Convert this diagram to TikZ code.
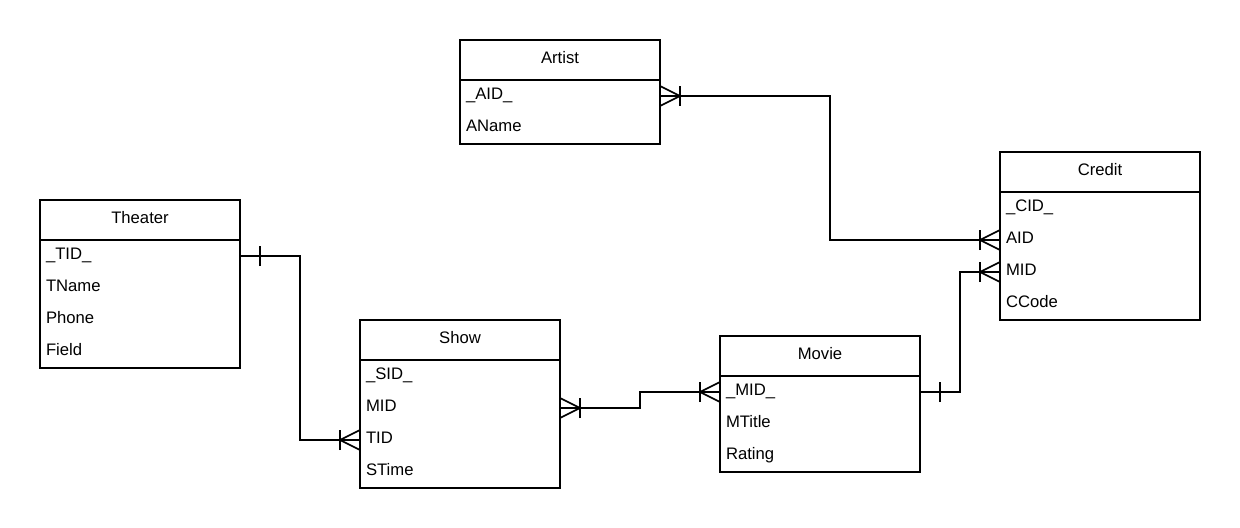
\documentclass[tikz,border=0pt]{standalone}
\usepackage{fontspec}
\setmainfont{Liberation Sans}
\usetikzlibrary{calc}
\tikzset{
  x=0.75pt, y=-0.75pt,
  ent/.style={draw=black, line width=1.3pt},
  hdr/.style={minimum width=150pt, minimum height=30pt, inner sep=0pt, outer sep=0pt, anchor=north west,
    font=\fontsize{12.5}{14}\selectfont, text height=0.72em, text depth=0.2em},
  rowbox/.style={minimum width=150pt, minimum height=24pt, inner xsep=4.5pt, inner ysep=0pt, outer sep=0pt, anchor=north west,
    text width=141pt, align=left, font=\fontsize{12.5}{14}\selectfont, text height=0.72em, text depth=0.2em},
  conn/.style={draw=black, line width=1.3pt},
}
\newcommand\erentity[6]{% name, x, y, title, rows, number of rows
  \node[hdr] (#1) at (#2,#3) {#4};
  \foreach \r [count=\i] in {#5} {
    \node[rowbox] (#1-\i) at (#2,{#3+40+32*(\i-1)}) {\r};
  }
  \draw[ent] (#1.north west) rectangle (#1-#6.south east);
  \draw[ent] (#1.south west) -- (#1.south east);
}
\newcommand\crowfoot[2]{% point, direction (1 right, -1 left)
  \draw[conn] ($(#1)+(0,10)$) -- ($(#1)+(#2*20,0)$) -- ($(#1)+(0,-10)$);
  \draw[conn] ($(#1)+(#2*20,10)$) -- ($(#1)+(#2*20,-10)$);
}
\newcommand\onebar[2]{%
  \draw[conn] ($(#1)+(#2*20,10)$) -- ($(#1)+(#2*20,-10)$);
}
\begin{document}
\begin{tikzpicture}
\useasboundingbox[fill=white] (0,0) rectangle (1240,528);
\erentity{artist}{460}{40}{Artist}{\_AID\_, AName}{2}
\erentity{credit}{1000}{152}{Credit}{\_CID\_, AID, MID, CCode}{4}
\erentity{theater}{40}{200}{Theater}{\_TID\_, TName, Phone, Field}{4}
\erentity{show}{360}{320}{Show}{\_SID\_, MID, TID, STime}{4}
\erentity{movie}{720}{336}{Movie}{\_MID\_, MTitle, Rating}{3}

\coordinate (m1) at (830,0);
\coordinate (m2) at (960,0);
\coordinate (m3) at (300,0);
\coordinate (m4) at (640,0);

% Artist - Credit
\draw[conn] (artist-1.east) -- (artist-1.east -| m1) |- (credit-2.west);
\crowfoot{artist-1.east}{1}
\crowfoot{credit-2.west}{-1}
% Movie - Credit
\draw[conn] (movie-1.east) -- (movie-1.east -| m2) |- (credit-3.west);
\onebar{movie-1.east}{1}
\crowfoot{credit-3.west}{-1}
% Theater - Show
\draw[conn] (theater-1.east) -- (theater-1.east -| m3) |- (show-3.west);
\onebar{theater-1.east}{1}
\crowfoot{show-3.west}{-1}
% Show - Movie
\draw[conn] (show-2.east) -- (show-2.east -| m4) |- (movie-1.west);
\crowfoot{show-2.east}{1}
\crowfoot{movie-1.west}{-1}
\end{tikzpicture}
\end{document}
